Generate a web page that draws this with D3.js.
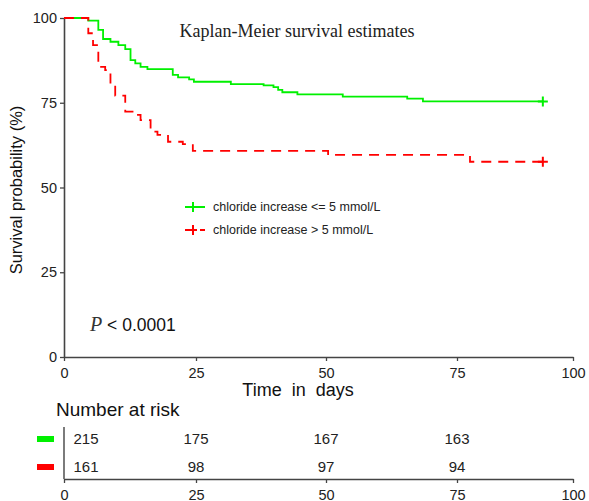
<!DOCTYPE html>
<html>
<head>
<meta charset="utf-8">
<script src="https://cdn.jsdelivr.net/npm/d3@7"></script>
<style>
  body { margin: 0; background: #fff; }
  svg { display: block; font-family: "Liberation Sans", Arial, sans-serif; }
</style>
</head>
<body>
<svg width="589" height="501"></svg>
<script>
// survival curves (days, %)
const lowTimes = [0, 4.6, 6.5, 7.4, 8.8, 10.3, 11.6, 12.6, 13.5, 14.5, 15.8, 20.6, 21.6, 23.7, 24.6, 31.7, 38, 39.9, 40.8, 41.6, 44.5, 53.2, 65.5, 68.5, 93.5];
const lowSurv = [100, 99.2, 96.5, 93.8, 93, 92, 90.8, 87.6, 86.6, 85.6, 84.9, 83.2, 82.5, 81.9, 81.2, 80.5, 80.1, 79.6, 78.8, 78.1, 77.5, 76.8, 76.2, 75.4, 75.4];
const highTimes = [0, 4.6, 5.5, 6.5, 7.8, 8.8, 9.7, 11.6, 13.2, 14.5, 16.4, 17.7, 19.7, 22.5, 24.4, 50.4, 77.8, 93.5];
const highSurv = [100, 95.5, 92, 85.6, 84.6, 80.2, 77.1, 72.4, 71.4, 69.9, 66.5, 65.5, 63.5, 62.8, 60.8, 59.6, 57.6, 57.6];

const groupNames = ['chloride increase <= 5 mmol/L', 'chloride increase > 5 mmol/L'];
const groupColors = ['#00f000', '#ff0000'];

const xTicks = [0, 25, 50, 75, 100];
const yTicks = [0, 25, 50, 75, 100];

const riskTimes = [0, 25, 50, 75];
const riskLow = [215, 175, 167, 163];
const riskHigh = [161, 98, 97, 94];

const svg = d3.select('svg');

// x tick at 100 sits a bit closer in the original picture
let x = d3.scaleLinear().domain([0, 25, 50, 75, 100]).range([64, 196, 326, 457, 573]);
let y = d3.scaleLinear().domain([0, 100]).range([357, 18]);

const axisCol = '#444';

// main axes
let xAxis = svg.append('g').attr('transform', 'translate(0,357)')
  .call(d3.axisBottom(x).tickValues(xTicks).tickSize(4).tickSizeOuter(0));
let yAxis = svg.append('g').attr('transform', 'translate(64,0)')
  .call(d3.axisLeft(y).tickValues(yTicks).tickSize(4).tickSizeOuter(0));
[xAxis, yAxis].forEach(a => {
  a.select('.domain').attr('stroke', axisCol).attr('stroke-width', 1.6);
  a.selectAll('.tick line').attr('stroke', axisCol).attr('stroke-width', 1.3);
  a.selectAll('.tick text').attr('font-size', 14.5).attr('fill', '#222')
    .attr('font-family', '"Liberation Sans", Arial, sans-serif');
});
xAxis.selectAll('.tick text').attr('dy', '0.95em');

svg.append('text').attr('x', 298).attr('y', 396).attr('text-anchor', 'middle')
  .attr('font-size', 18).attr('fill', '#111').attr('xml:space', 'preserve').text('Time  in  days');

svg.append('text').attr('transform', 'translate(22,190) rotate(-90)')
  .attr('text-anchor', 'middle').attr('font-size', 16.5).attr('fill', '#111')
  .text('Survival probability (%)');

svg.append('text').attr('x', 297).attr('y', 37).attr('text-anchor', 'middle')
  .attr('font-family', '"Liberation Serif", "Times New Roman", serif')
  .attr('font-size', 18).attr('fill', '#222').text('Kaplan-Meier survival estimates');

// curves
let line = d3.line().curve(d3.curveStepAfter).x(d => x(d[0])).y(d => y(d[1]));
const curves = [
  { t: lowTimes, s: lowSurv, dash: null },
  { t: highTimes, s: highSurv, dash: '10,7' }
];
// green first, red dashed on top (red covers green at the start)
[0, 1].forEach(i => {
  let c = curves[i];
  let pts = c.t.map((t, j) => [t, c.s[j]]);
  svg.append('path').attr('d', line(pts)).attr('fill', 'none')
    .attr('stroke', groupColors[i]).attr('stroke-width', 1.8)
    .attr('stroke-dasharray', c.dash);
  let last = pts[pts.length - 1];
  svg.append('path')
    .attr('d', `M${x(last[0]) - 5},${y(last[1])}h10M${x(last[0])},${y(last[1]) - 5}v10`)
    .attr('stroke', groupColors[i]).attr('stroke-width', 2);
});

// legend
groupNames.forEach((name, i) => {
  let ly = 207 + i * 23;
  let g = svg.append('g');
  g.append('line').attr('x1', 185).attr('x2', 205).attr('y1', ly).attr('y2', ly)
    .attr('stroke', groupColors[i]).attr('stroke-width', 2)
    .attr('stroke-dasharray', i ? '12,3' : null);
  g.append('line').attr('x1', 193).attr('x2', 193).attr('y1', ly - 5).attr('y2', ly + 5)
    .attr('stroke', groupColors[i]).attr('stroke-width', 2);
  g.append('text').attr('x', 213).attr('y', ly + 4).attr('font-size', 12.5).attr('fill', '#222').text(name);
});

// p value
let p = svg.append('text').attr('x', 90).attr('y', 331).attr('font-size', 17.5).attr('fill', '#111');
p.append('tspan').attr('font-family', '"Liberation Serif", "Times New Roman", serif')
  .attr('font-style', 'italic').attr('font-size', 20).attr('fill', '#333').text('P');
p.append('tspan').text(' < 0.0001');

// risk table
svg.append('text').attr('x', 56).attr('y', 416).attr('font-size', 19).attr('fill', '#111').text('Number at risk');

let riskAxis = svg.append('g').attr('transform', 'translate(0,479)')
  .call(d3.axisBottom(x).tickValues(xTicks).tickSize(4).tickSizeOuter(0));
riskAxis.select('.domain').attr('stroke', axisCol).attr('stroke-width', 1.6);
riskAxis.selectAll('.tick line').attr('stroke', axisCol).attr('stroke-width', 1.3);
riskAxis.selectAll('.tick text').attr('font-size', 14.5).attr('fill', '#222').attr('dy', '0.95em')
  .attr('font-family', '"Liberation Sans", Arial, sans-serif');

svg.append('line').attr('x1', x(0)).attr('x2', x(0)).attr('y1', 427).attr('y2', 479)
  .attr('stroke', axisCol).attr('stroke-width', 1.4);

[riskLow, riskHigh].forEach((vals, i) => {
  let ry = 439 + i * 28;
  svg.append('rect').attr('x', 37).attr('y', ry - 3).attr('width', 17).attr('height', 6)
    .attr('fill', groupColors[i]);
  vals.forEach((v, j) => {
    let t = riskTimes[j];
    svg.append('text').attr('x', x(t) + (t === 0 ? 22 : 0)).attr('y', ry + 5)
      .attr('text-anchor', 'middle').attr('font-size', 15).attr('fill', '#222').text(v);
  });
});
</script>
</body>
</html>
